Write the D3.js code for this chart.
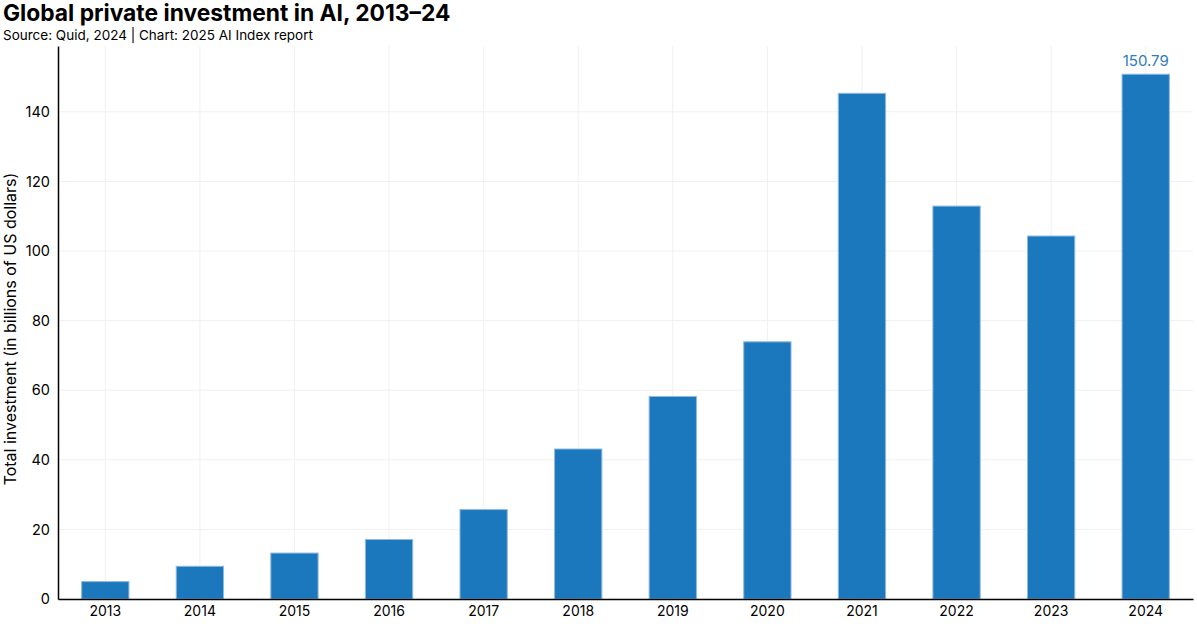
<!DOCTYPE html>
<html><head><meta charset="utf-8">
<script src="https://cdn.jsdelivr.net/npm/d3@7"></script>
<style>
html,body{margin:0;padding:0;background:#fff;}
text{font-family:Inter, "Noto Sans", sans-serif;}
</style></head>
<body>
<svg id="chart" width="1197" height="636"></svg>
<script>
const years = ["2013","2014","2015","2016","2017","2018","2019","2020","2021","2022","2023","2024"];
const investment = [5.0, 9.4, 13.2, 17.1, 25.7, 43.1, 58.2, 73.9, 145.3, 112.9, 104.3, 150.79];
const yTicks = [0, 20, 40, 60, 80, 100, 120, 140];
const titleText = "Global private investment in AI, 2013–24";
const subtitleText = "Source: Quid, 2024 | Chart: 2025 AI Index report";
const yLabel = "Total investment (in billions of US dollars)";
const highlightLabel = "150.79";

(function(){
const svg = d3.select("#chart");
const mLeft = 58, mRight = 1193, mTop = 46, mBottom = 599;

const x = d3.scaleBand().domain(years).range([mLeft, mRight]).paddingInner(0.5).paddingOuter(0.25);
const y = d3.scaleLinear().domain([0, 158.9]).range([mBottom, mTop]);

// grid
svg.append("g").selectAll("line").data(yTicks).join("line")
  .attr("x1", mLeft).attr("x2", mRight)
  .attr("y1", d => y(d)).attr("y2", d => y(d))
  .attr("stroke", "#f0f0f0").attr("stroke-width", 1);
svg.append("g").selectAll("line").data(years).join("line")
  .attr("x1", d => x(d) + x.bandwidth()/2).attr("x2", d => x(d) + x.bandwidth()/2)
  .attr("y1", mTop).attr("y2", mBottom)
  .attr("stroke", "#f0f0f0").attr("stroke-width", 1);

// bars
svg.append("g").selectAll("rect").data(years).join("rect")
  .attr("x", d => x(d)).attr("width", x.bandwidth())
  .attr("y", (d,i) => y(investment[i]))
  .attr("height", (d,i) => y(0) - y(investment[i]))
  .attr("fill", "#1c78bc").attr("stroke", "#8fb9e0").attr("stroke-width", 1);

// axes
const yAxis = svg.append("g").attr("transform", `translate(${mLeft},0)`)
  .call(d3.axisLeft(y).tickValues(yTicks).tickSize(0).tickPadding(8));
yAxis.select(".domain").attr("stroke", "#000").attr("stroke-width", 1.5);
yAxis.selectAll("text").attr("font-size", 14.5).attr("fill", "#000");

const xAxis = svg.append("g").attr("transform", `translate(0,${mBottom})`)
  .call(d3.axisBottom(x).tickSize(0).tickPadding(7));
xAxis.select(".domain").attr("stroke", "#000").attr("stroke-width", 1.5);
xAxis.selectAll("text").attr("font-size", 14).attr("fill", "#000");

// label on last bar
svg.append("text")
  .attr("x", x(years[years.length-1]) + x.bandwidth()/2)
  .attr("y", y(investment[investment.length-1]) - 8)
  .attr("text-anchor", "middle").attr("font-size", 15).attr("fill", "#2f7bc1")
  .text(highlightLabel);

// y label
svg.append("text")
  .attr("transform", `translate(16,329) rotate(-90)`)
  .attr("text-anchor", "middle").attr("font-size", 16).attr("fill", "#000")
  .text(yLabel);

// titles
svg.append("text").attr("x", 3).attr("y", 21).attr("font-size", 22.8).attr("font-weight", 700)
  .attr("fill", "#000").text(titleText);
svg.append("text").attr("x", 3).attr("y", 40).attr("font-size", 13.5).attr("fill", "#000")
  .text(subtitleText);
})();
</script>
</body></html>
